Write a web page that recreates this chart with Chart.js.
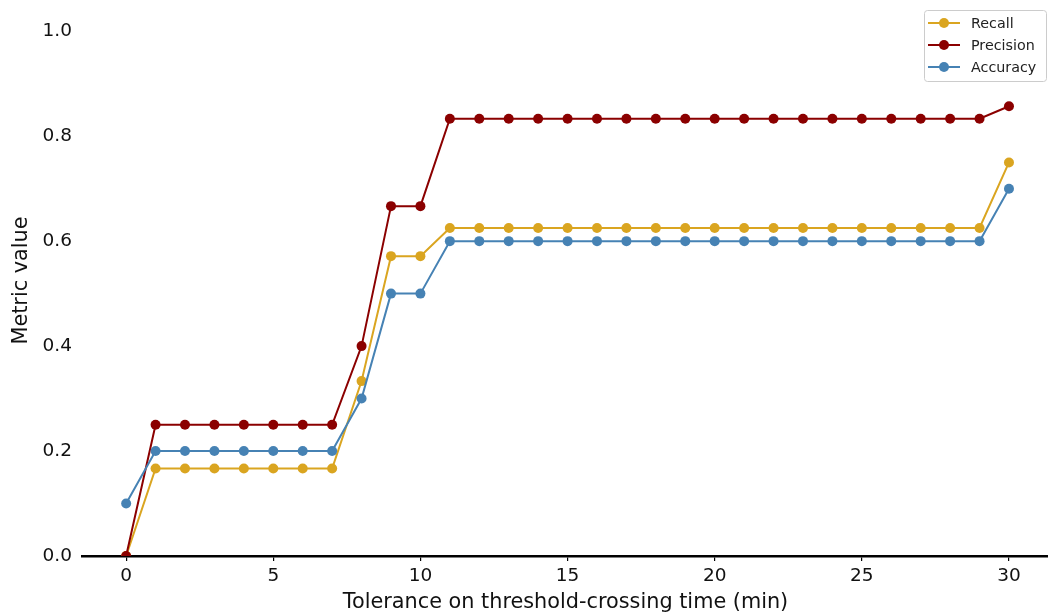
<!DOCTYPE html>
<html>
<head>
<meta charset="utf-8">
<script src="https://cdn.jsdelivr.net/npm/chart.js@4.4.1/dist/chart.umd.min.js"></script>
<style>
  html, body { margin: 0; padding: 0; background: #fff; overflow: hidden; }
  #wrap { width: 1054px; height: 615px; }
</style>
</head>
<body>
<div id="wrap"><canvas id="metrics"></canvas></div>
<script>
// tolerance in minutes, 0..30
const tolerance = Array.from({ length: 31 }, (_, i) => i);

const recall = [0, 0.1667, 0.1667, 0.1667, 0.1667, 0.1667, 0.1667, 0.1667, 0.3333, 0.5714, 0.5714,
  0.625, 0.625, 0.625, 0.625, 0.625, 0.625, 0.625, 0.625, 0.625, 0.625,
  0.625, 0.625, 0.625, 0.625, 0.625, 0.625, 0.625, 0.625, 0.625, 0.75];
const precision = [0, 0.25, 0.25, 0.25, 0.25, 0.25, 0.25, 0.25, 0.4, 0.6667, 0.6667,
  0.8333, 0.8333, 0.8333, 0.8333, 0.8333, 0.8333, 0.8333, 0.8333, 0.8333, 0.8333,
  0.8333, 0.8333, 0.8333, 0.8333, 0.8333, 0.8333, 0.8333, 0.8333, 0.8333, 0.8571];
const accuracy = [0.1, 0.2, 0.2, 0.2, 0.2, 0.2, 0.2, 0.2, 0.3, 0.5, 0.5,
  0.6, 0.6, 0.6, 0.6, 0.6, 0.6, 0.6, 0.6, 0.6, 0.6,
  0.6, 0.6, 0.6, 0.6, 0.6, 0.6, 0.6, 0.6, 0.6, 0.7];

const xTicks = [0, 5, 10, 15, 20, 25, 30];
const yTicks = [0, 0.2, 0.4, 0.6, 0.8, 1.0];

const FONT = "'DejaVu Sans', sans-serif";

function series(label, values, color, order) {
  return {
    label,
    data: tolerance.map((t, i) => ({ x: t, y: values[i] })),
    borderColor: color,
    backgroundColor: color,
    pointBackgroundColor: color,
    pointBorderColor: color,
    borderWidth: 2,
    pointRadius: 5,
    pointBorderWidth: 0,
    tension: 0,
    order
  };
}

// legend drawn in the upper right corner with a rounded frame
const boxedLegend = {
  id: 'boxedLegend',
  afterDraw(chart) {
    const ctx = chart.ctx;
    const sets = chart.data.datasets;
    const x0 = 924, y0 = 10, w = 122, h = 71;
    ctx.save();
    ctx.fillStyle = 'rgba(255,255,255,0.8)';
    ctx.strokeStyle = '#cccccc';
    ctx.lineWidth = 1;
    ctx.beginPath();
    ctx.roundRect(x0 + 0.5, y0 + 0.5, w, h, 3);
    ctx.fill();
    ctx.stroke();
    ctx.font = `14.3px ${FONT}`;
    ctx.textBaseline = 'middle';
    ctx.textAlign = 'left';
    sets.forEach((ds, i) => {
      const cy = y0 + 13 + i * 22;
      ctx.strokeStyle = ds.borderColor;
      ctx.lineWidth = 2;
      ctx.beginPath();
      ctx.moveTo(928, cy);
      ctx.lineTo(960, cy);
      ctx.stroke();
      ctx.fillStyle = ds.borderColor;
      ctx.beginPath();
      ctx.arc(944, cy, 5, 0, Math.PI * 2);
      ctx.fill();
      ctx.fillStyle = '#222';
      ctx.fillText(ds.label, 971, cy + 1);
    });
    ctx.restore();
  }
};

new Chart(document.getElementById('metrics'), {
  type: 'line',
  data: {
    datasets: [
      series('Recall', recall, '#DAA520', 3),
      series('Precision', precision, '#8B0000', 2),
      series('Accuracy', accuracy, '#4682B4', 1)
    ]
  },
  options: {
    responsive: true,
    maintainAspectRatio: false,
    animation: false,
    layout: { padding: { top: 3, right: 0, left: 0, bottom: 0 } },
    plugins: {
      legend: { display: false },
      tooltip: { enabled: false }
    },
    scales: {
      x: {
        type: 'linear',
        min: -1.5,
        max: 31.36,
        afterBuildTicks: s => { s.ticks = xTicks.map(v => ({ value: v })); },
        afterFit: s => { s.height = 59; s.paddingLeft = 0; s.paddingRight = 0; },
        border: { display: true, color: '#000', width: 2.5 },
        grid: { drawOnChartArea: false, drawTicks: true, tickLength: 5, color: '#000', lineWidth: 1.2 },
        ticks: { color: '#111', font: { family: FONT, size: 18.5 }, padding: 4, maxRotation: 0 },
        title: {
          display: true,
          text: 'Tolerance on threshold-crossing time (min)',
          color: '#111',
          font: { family: FONT, size: 20.8 },
          padding: { top: 1, bottom: 0 }
        }
      },
      y: {
        min: 0,
        max: 1.05,
        afterBuildTicks: s => { s.ticks = yTicks.map(v => ({ value: v })); },
        afterFit: s => { s.width = 82; s.paddingTop = 0; s.paddingBottom = 0; },
        border: { display: false },
        grid: { display: false, drawTicks: false },
        ticks: {
          color: '#111',
          font: { family: FONT, size: 18.5 },
          padding: 10,
          callback: v => v.toFixed(1)
        },
        title: {
          display: true,
          text: 'Metric value',
          color: '#111',
          font: { family: FONT, size: 20.8 },
          padding: { top: 9, bottom: 0 }
        }
      }
    }
  },
  plugins: [boxedLegend]
});
</script>
</body>
</html>
